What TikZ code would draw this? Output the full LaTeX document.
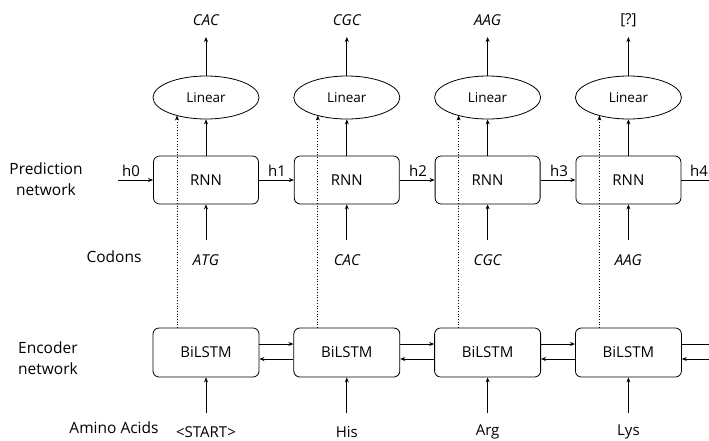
\documentclass[tikz,border=0pt]{standalone}
\usepackage{fontspec}
\setmainfont{Open Sans}
\usetikzlibrary{arrows.meta,shapes.geometric}
\begin{document}
\begin{tikzpicture}[x=1pt,y=-1pt,
  line width=0.8pt,
  tip/.style={-{Stealth[length=5pt,width=4pt]}},
  rnnbox/.style={draw,rounded corners=6pt,minimum width=105pt,minimum height=48pt,inner sep=0pt,font=\fontsize{15}{17}\selectfont},
  lstmbox/.style={draw,rounded corners=6pt,minimum width=106pt,minimum height=49pt,inner sep=0pt,font=\fontsize{15}{17}\selectfont},
  linbox/.style={draw,ellipse,minimum width=106pt,minimum height=43pt,inner sep=0pt,font=\fontsize{13.5}{15}\selectfont},
  cod/.style={font=\fontsize{15}{17}\selectfont\itshape},
  lab/.style={font=\fontsize{15.5}{21}\selectfont},
  hlab/.style={font=\fontsize{15}{17}\selectfont},
  dots/.style={dotted,line width=0.7pt}
]
\useasboundingbox (0,0) rectangle (709,440);

% left labels
\node[lab,align=center] (lpred) at (46,179) {Prediction\\network};
\node[lab] (lcod) at (114,257) {Codons};
\node[lab,align=left] (lenc) at (48,358) {Encoder\\network};
\node[lab] (lamino) at (114,428) {Amino Acids};

% columns
\foreach \i/\outp/\cdn/\aa in {1/CAC/ATG/<START>,2/CGC/CAC/His,3/AAG/CGC/Arg,4/{[?]}/AAG/Lys}{
  \pgfmathsetmacro{\cx}{206+140.8*(\i-1)}
  \node[rnnbox] (r\i) at (\cx,180) {RNN};
  \node[linbox] (l\i) at (\cx,97.5) {Linear};
  \node[lstmbox] (b\i) at (\cx,352.5) {BiLSTM};
  \ifnum\i=4
    \node[hlab] (o\i) at (\cx,20) {\outp};
  \else
    \node[cod] (o\i) at (\cx,20) {\outp};
  \fi
  \node[cod] (c\i) at (\cx,260) {\cdn};
  \node[hlab] (a\i) at (\cx,432) {\aa};
  \coordinate (ot\i) at (\cx,37);
  \coordinate (cb\i) at (\cx,240);
  \coordinate (ab\i) at (\cx,413);
  \draw[tip] (l\i.north) -- (ot\i);
  \draw[tip] (r\i.north) -- (l\i.south);
  \draw[tip] (cb\i) -- (r\i.south);
  \draw[tip] (ab\i) -- (b\i.south);
  \coordinate (dtop\i) at (\cx-29,115.5);
  \coordinate (dbot\i) at (\cx-29,327.8);
  \draw[dots,tip] (dbot\i) -- (dtop\i);
}

% hidden state arrows
\coordinate (h0s) at (118,180);
\draw[tip] (h0s) -- (r1.west);
\node[hlab] (h0) at (131,171) {h0};
\draw[tip] (r1.east) -- (r2.west);
\node[hlab] (h1) at (277,171) {h1};
\draw[tip] (r2.east) -- (r3.west);
\node[hlab] (h2) at (418,171) {h2};
\draw[tip] (r3.east) -- (r4.west);
\node[hlab] (h3) at (559,171) {h3};
\coordinate (h4e) at (709,180);
\draw (r4.east) -- (h4e);
\node[hlab] (h4) at (699,171) {h4};

% bilstm arrows
\foreach \i/\j in {1/2,2/3,3/4}{
  \draw[tip] ([yshift=8.5pt]b\i.east) -- ([yshift=8.5pt]b\j.west);
  \draw[tip] ([yshift=-6.5pt]b\j.west) -- ([yshift=-6.5pt]b\i.east);
}
\coordinate (eu) at (709,344);
\coordinate (el) at (709,359);
\draw ([yshift=8.5pt]b4.east) -- (eu);
\draw[tip] (el) -- ([yshift=-6.5pt]b4.east);
\end{tikzpicture}
\end{document}
